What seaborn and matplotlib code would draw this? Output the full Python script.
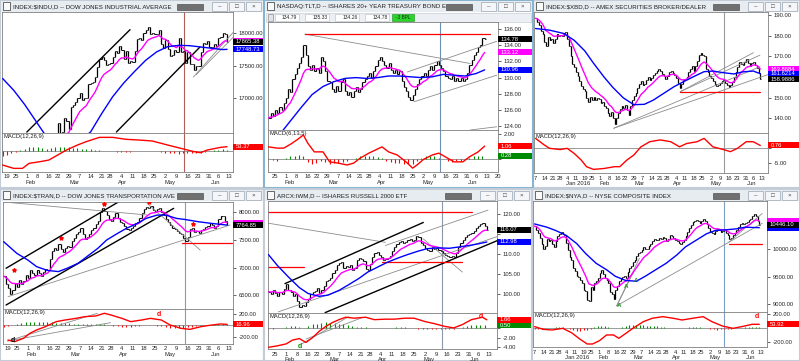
import numpy as np
import pandas as pd
import matplotlib
matplotlib.use("Agg")
import matplotlib.pyplot as plt
from matplotlib.patches import Rectangle
from matplotlib.transforms import blended_transform_factory
import seaborn as sns

# -------------------------
# Calendario de sesiones
# -------------------------
HOLIDAYS = ["2015-12-25", "2016-01-01", "2016-01-18", "2016-02-15", "2016-03-25", "2016-05-30"]
CAL = pd.bdate_range("2015-12-07", "2016-06-30", freq="C", holidays=HOLIDAYS)

# -------------------------
# Datos
# -------------------------
# $INDU, cierres diarios desde 2016-01-14
INDU_START = "2016-01-14"
INDU_CLOSE = [16379, 15988, 16016, 15766, 15882, 16093, 15885, 16167, 15944, 16069, 16466,
              16449, 16153, 16336, 16416, 16205, 16027, 16014, 15914, 15660, 15974,
              16196, 16454, 16414, 16392, 16620, 16432, 16485, 16698, 16640, 16517,
              16866, 16900, 16944, 17007, 17074, 16964, 17001, 16996, 17213, 17230, 17252,
              17326, 17481, 17602, 17624, 17583, 17503, 17516, 17536, 17634, 17717, 17685,
              17793, 17737, 17603, 17716, 17542, 17577, 17556, 17721, 17908, 17926, 17897,
              18004, 18053, 18096, 17982, 18003, 17977, 17990, 18042, 17830, 17773,
              17891, 17750, 17651, 17660, 17740, 17705, 17928, 17711, 17720, 17535, 17711,
              17530, 17526, 17435, 17500, 17492, 17706, 17851, 17828, 17873, 17787,
              17790, 17838, 17807, 17920, 17938, 18005, 17985, 17865.38]
INDU_BLUE_X = [0, 5, 10, 15, 20, 25, 30, 35, 40, 45, 50, 55, 60, 65, 70, 75, 80, 85, 90, 95, 100, 102]
INDU_BLUE = [17300, 17120, 16900, 16650, 16400, 16290, 16270, 16330, 16480, 16760, 17020,
             17230, 17410, 17580, 17710, 17790, 17810, 17805, 17785, 17765, 17745, 17748.73]
INDU_MACD_X = [0, 5, 9, 12, 17, 21, 25, 29, 34, 38, 44, 50, 56, 62, 68, 75, 81, 87, 90, 93, 99, 102]
INDU_MACD = [-174, -215, -215, -153, -132, -112, -50, 12, 74, 116, 169, 169, 145, 136, 124,
             74, 33, -8, -21, 12, 45, 53.37]
INDU_HIST = [-60, -50, -30, -10, 15, 30, 45, 50, 45, 35, 30, 35, 45, 50, 50, 45, 40, 35, 30, 25,
             20, 15, 10, 5, 2, -5, -10, -12, -15, -10, -5, -5, -5, -3, 2, -5, -10, -20, -25, -30,
             -35, -30, -30, -25, -25, -20, -10, 0, 10, 15, 20, 18]
INDU_BLACK = [(11, 16477, 57.9, 18051), (51.7, 16477, 89.7, 17785)]
INDU_GRAY = [(86.7, 17323, 104.9, 18015), (88, 17360, 104.9, 17938)]
INDU_RED = []

# TLT, cierres diarios desde 2016-01-20
TLT_START = "2016-01-20"
TLT_CLOSE = [125.0, 125.6, 125.2, 126.0, 125.6, 126.3, 126.0, 126.8, 127.5, 128.6,
             128.2, 129.8, 130.4, 131.2, 131.8, 132.6, 134.0, 132.8, 131.4, 131.0,
             131.6, 130.8, 131.2, 130.6, 132.6, 132.0, 130.8, 129.6, 129.4, 128.6,
             128.2, 129.0, 128.4, 129.4, 129.8, 128.4, 127.8, 128.2, 127.6, 128.4,
             128.8, 128.2, 128.6, 129.4, 129.8, 130.2, 130.6, 130.0, 130.8, 131.4,
             132.2, 132.6, 132.0, 131.6, 131.2, 131.8, 131.0, 130.6, 131.0, 130.4,
             130.8, 129.6, 128.8, 128.4, 127.6, 127.2, 127.8, 128.6, 129.2, 129.8,
             130.2, 130.6, 130.2, 130.9, 131.4, 131.0, 131.6, 132.0, 131.6, 131.2,
             130.8, 130.2, 130.0, 129.8, 130.2, 129.6, 130.0, 129.6, 130.0, 129.6,
             129.8, 130.6, 131.6, 132.2, 132.8, 133.2, 133.8, 134.0, 134.9, 134.78]
TLT_BLUE_X = [0, 5, 10, 15, 20, 25, 30, 35, 40, 45, 50, 55, 60, 65, 70, 75, 80, 85, 90, 95, 99]
TLT_BLUE = [121.8, 122.9, 124.6, 126.3, 127.9, 128.9, 129.5, 129.9, 130.0, 129.9, 130.0,
            130.2, 130.2, 130.1, 130.0, 130.1, 130.4, 130.3, 130.2, 130.5, 130.96]
TLT_MACD_X = [0, 4, 7, 10, 13, 16, 18, 21, 25, 28, 32, 36, 39, 42, 46, 49, 52, 55, 59, 63,
              66, 68, 71, 75, 78, 81, 85, 89, 92, 96, 99]
TLT_MACD = [1.0, 0.9, 0.9, 1.2, 1.55, 1.95, 1.3, 0.6, 0.6, -0.2, -0.3, -0.45, -0.3, 0.1, 0.5,
            0.75, 1.0, 0.6, 0.35, -0.2, -0.7, -0.45, 0.0, 0.35, 0.5, 0.2, -0.2, -0.2, 0.2, 0.6, 1.06]
TLT_HIST = [0.1, -0.05, -0.1, 0.05, 0.15, 0.25, 0.3, 0.35, 0.3, -0.2, -0.35, -0.3, -0.1, -0.2,
            -0.35, -0.3, -0.25, -0.2, -0.15, 0.0, 0.15, 0.25, 0.3, 0.3, 0.25, 0.2, 0.15, -0.1,
            -0.2, -0.25, -0.3, -0.35, -0.4, -0.35, -0.1, 0.15, 0.25, 0.3, 0.25, 0.15, 0.0,
            -0.15, -0.2, -0.15, -0.1, 0.05, 0.15, 0.25, 0.3, 0.28]
TLT_BLACK = []
TLT_GRAY = [(16.6, 135.4, 92.4, 131.75), (63.6, 130.7, 104.5, 134.5),
            (66.6, 127.0, 104.5, 130.3), (92.4, 123.5, 104.5, 123.9)]
TLT_RED = [(16.6, 135.4, 101.5, 135.4)]
TLT_FIELDS = ["134.79", "135.33", "134.26", "134.78"]

# $XBD, cierres diarios desde 2015-12-07
XBD_START = "2015-12-07"
XBD_CLOSE = [188.5, 186.5, 185.0, 182.5, 181.0, 177.0, 175.0, 179.5, 178.0, 178.5,
             176.5, 178.5, 181.0, 180.0, 180.5, 180.0, 181.5, 182.0, 178.5, 175.0,
             170.0, 166.5, 165.0, 162.5, 160.5, 158.0, 155.5, 154.0, 153.0, 150.0,
             148.0, 150.5, 149.0, 150.5, 149.0, 150.0, 149.5, 147.5, 148.0, 146.0,
             145.0, 142.5, 141.0, 143.0, 140.0, 137.5, 140.0, 142.5, 144.5, 146.0,
             145.0, 146.5, 144.0, 141.5, 146.0, 149.0, 151.0, 152.5, 154.5, 156.5,
             158.0, 156.0, 156.5, 158.5, 160.0, 158.5, 159.5, 161.0, 162.0, 163.0,
             164.0, 163.0, 161.5, 160.5, 159.0, 160.5, 162.5, 163.0, 162.0, 161.0,
             159.5, 157.0, 154.5, 156.5, 158.5, 159.0, 160.0, 162.5, 164.0, 165.5,
             163.0, 165.5, 168.0, 170.5, 171.5, 170.5, 170.0, 164.0, 162.5, 160.5,
             159.5, 158.0, 156.5, 155.5, 156.0, 157.0, 158.0, 158.5, 157.0, 156.0,
             155.0, 156.0, 157.5, 160.0, 162.5, 165.0, 167.5, 166.5, 166.0, 167.5,
             168.5, 167.0, 165.5, 167.0, 167.5, 166.0, 164.5, 162.0, 158.9886]
XBD_BLUE_X = [0, 8, 16, 22, 28, 33, 39, 44, 50, 56, 62, 67, 73, 79, 84, 90, 96, 101, 107, 113, 118, 124, 128]
XBD_BLUE = [183.5, 182.7, 181.1, 177.8, 172.7, 166.7, 160.0, 155.0, 149.9, 146.6, 146.8, 148.8,
            152.1, 155.4, 157.6, 160.2, 162.6, 162.9, 162.1, 161.5, 162.5, 162.9, 161.6214]
XBD_MACD_X = [0, 5, 8, 14, 18, 22, 26, 29, 33, 39, 45, 48, 52, 56, 60, 65, 71, 77, 82, 86,
              92, 96, 101, 107, 111, 115, 120, 124, 128]
XBD_MACD = [3.1, 0.9, -0.2, -0.6, -0.2, -1.9, -4.1, -6.3, -7.2, -6.9, -6.3, -6.3, -4.1, -2.4,
            0.3, 2.0, 2.6, 2.0, 0.3, 1.4, 2.0, 3.1, 0.3, -0.6, -1.3, -0.2, 2.0, 2.0, 0.76]
XBD_HIST = []
XBD_BLACK = []
XBD_GRAY = [(44.5, 135.2, 133.5, 161.5), (44.5, 135.2, 127.8, 165.0),
            (82.4, 152.9, 124.1, 171.8), (82.4, 152.9, 127.8, 170.6)]
XBD_RED = [(82.4, 152.6, 127.8, 152.6)]

# $TRAN, cierres diarios desde 2016-01-14
TRAN_START = "2016-01-14"
TRAN_CLOSE = [6850, 6700, 6640, 6520, 6600, 6720, 6650, 6780, 6700, 6760, 6860,
              6820, 6950, 6900, 6870, 6960, 6900, 6850, 6920, 6980, 6950,
              7150, 7300, 7350, 7320, 7420, 7330, 7280, 7350, 7400, 7380,
              7480, 7530, 7600, 7640, 7710, 7600, 7520, 7560, 7600, 7680, 7720,
              7790, 7850, 8000, 8080, 8020, 7960, 7880, 7850, 7920, 7980, 7900,
              7830, 7800, 7750, 7700, 7680, 7720, 7760, 7800, 7830, 7900, 7990,
              8060, 8100, 8080, 8110, 8040, 8000, 8060, 8080, 8000, 7950,
              7880, 7820, 7780, 7720, 7700, 7660, 7620, 7600, 7530, 7480, 7560,
              7700, 7720, 7640, 7660, 7620, 7680, 7700, 7740, 7760, 7800,
              7780, 7720, 7760, 7880, 7940, 7930, 7850, 7764.85]
TRAN_BLUE_X = [0, 6, 11, 15, 20, 25, 29, 34, 38, 43, 47, 52, 56, 61, 65, 70, 74, 79, 83, 89, 95, 102]
TRAN_BLUE = [7470, 7260, 7140, 7020, 6950, 6930, 6990, 7080, 7200, 7350, 7500, 7620, 7710,
             7800, 7890, 7950, 7950, 7890, 7870, 7830, 7800, 7770]
TRAN_MACD_X = [2, 5, 9, 12, 15, 19, 24, 28, 33, 37, 42, 46, 49, 54, 58, 63, 67, 72, 76, 81, 85, 90, 94, 99, 102]
TRAN_MACD = [-259, -288, -229, -141, -82, -24, 65, 94, 123, 153, 165, 212, 182, 123, 65, 94,
             123, 94, 6, -53, -71, -24, 0, 24, 16.96]
TRAN_HIST = [-30, -20, 10, 30, 45, 55, 60, 65, 65, 60, 55, 55, 50, 45, 40, 35, 30, 30, 28, 22,
             18, 15, 15, 15, 5, -10, -20, -30, -35, -30, -15, -5, 5, 8, 5, -5, -15, -30, -40,
             -45, -45, -40, -35, -25, -15, -5, 5, 10, 15, 18, 20, 15]
TRAN_BLACK = [(1.1, 6990, 52.6, 8193), (1.1, 6326, 77.6, 8072)]
TRAN_GRAY = [(3.5, 8175, 65.5, 7952), (2.0, 6477, 103.4, 7771), (65.5, 8163, 89.7, 7320)]
TRAN_RED = [(81.4, 7452, 104.1, 7452)]
TRAN_STARS_X = [4.6, 26.1, 45.8, 66.2, 86.4]
TRAN_STARS_Y = [6959, 7530, 8150, 8193, 7789]

# IWM, cierres diarios desde 2016-01-20
IWM_START = "2016-01-20"
IWM_CLOSE = [100.5, 99.8, 101.0, 100.2, 99.3, 100.5, 100.0, 101.2, 102.3, 100.8,
             100.4, 99.5, 99.8, 98.2, 96.6, 97.2, 96.8, 97.9, 98.6, 99.8,
             100.3, 100.6, 101.4, 100.2, 100.8, 101.8, 103.2, 103.5, 104.0, 105.2,
             106.0, 107.3, 107.6, 108.0, 106.5, 106.9, 106.6, 107.2, 106.0, 106.5,
             108.5, 109.0, 108.6, 108.2, 106.2, 105.9, 107.4, 109.2, 110.3, 110.5,
             109.8, 109.1, 108.4, 108.6, 109.0, 109.5, 110.8, 111.8, 112.4, 113.0,
             113.3, 112.7, 113.1, 113.4, 113.8, 113.2, 113.6, 114.6, 114.2, 112.8,
             112.2, 111.5, 111.0, 110.7, 111.6, 111.2, 111.4, 110.9, 110.6, 110.2,
             109.7, 109.4, 109.2, 109.5, 109.1, 110.2, 111.8, 112.7, 113.6, 114.3,
             114.7, 115.0, 115.2, 115.8, 116.4, 116.9, 117.4, 117.8, 117.0, 116.07]
IWM_BLUE_X = [0, 4, 9, 14, 18, 23, 27, 32, 36, 41, 45, 50, 54, 59, 63, 68, 72, 77, 82, 86, 91, 95, 99]
IWM_BLUE = [109.8, 107.1, 104.2, 101.5, 100.0, 99.3, 99.6, 100.8, 102.1, 103.8, 105.4, 106.8,
            107.9, 109.0, 109.8, 110.7, 111.3, 111.5, 111.4, 111.7, 112.1, 112.5, 112.98]
IWM_MACD_X = [0, 4, 8, 11, 14, 17, 20, 23, 26, 29, 32, 35, 39, 44, 48, 53, 57, 62, 66, 71,
              75, 80, 84, 88, 92, 97, 99]
IWM_MACD = [-4.0, -3.7, -3.3, -2.5, -2.2, -3.0, -2.0, -0.7, 0.3, 1.1, 1.7, 2.2, 2.0, 2.2, 1.7,
            1.8, 1.8, 2.0, 2.0, 1.3, 0.9, 0.3, 0.0, 0.7, 1.7, 2.2, 1.66]
IWM_HIST = [-0.2, -0.2, -0.1, 0.05, 0.2, 0.3, 0.3, 0.2, 0.05, 0.4, 0.7, 0.9, 1.1, 1.2, 1.1,
            1.0, 0.9, 0.7, 0.5, 0.35, 0.25, 0.15, 0.1, -0.05, -0.1, -0.1, -0.05, 0.0, 0.05,
            0.1, 0.1, 0.1, 0.05, 0.0, -0.15, -0.25, -0.3, -0.3, -0.25, -0.25, -0.3, -0.3,
            -0.25, -0.05, 0.2, 0.4, 0.5, 0.55, 0.55, 0.5]
IWM_BLACK = [(7.5, 102.5, 70.2, 117.9), (25.7, 95.2, 104.5, 113.5)]
IWM_GRAY = [(0.0, 117.7, 53.0, 112.9), (53.0, 112.1, 99.5, 121.0),
            (4.5, 95.4, 104.5, 114.5), (70.2, 113.75, 87.9, 105.4)]
IWM_RED = [(-1, 120.6, 92.4, 120.6), (-1, 106.8, 16.1, 106.8), (51.5, 107.9, 87.9, 107.9)]

# $NYA, cierres diarios desde 2015-12-07
NYA_START = "2015-12-07"
NYA_CLOSE = [10420, 10350, 10300, 10200, 10100, 10000, 10060, 10180, 10150, 10170,
             10100, 10030, 10150, 10240, 10280, 10310, 10270, 10250, 10120, 9980,
             9850, 9800, 9660, 9600, 9520, 9490, 9440, 9380, 9260, 9230,
             9070, 9050, 9310, 9260, 9390, 9420, 9470, 9560, 9620, 9550,
             9480, 9440, 9380, 9220, 9180, 9090, 9250, 9330, 9420, 9450,
             9500, 9520, 9480, 9590, 9650, 9700, 9770, 9800, 9880, 9930,
             9950, 9990, 10040, 10010, 10000, 10060, 10100, 10150, 10190, 10170,
             10160, 10200, 10190, 10220, 10200, 10140, 10180, 10250, 10230, 10210,
             10170, 10150, 10120, 10100, 10130, 10160, 10240, 10310, 10380, 10430,
             10490, 10520, 10530, 10510, 10480, 10520, 10550, 10510, 10460, 10380,
             10310, 10290, 10280, 10330, 10370, 10340, 10310, 10330, 10340, 10300,
             10260, 10190, 10210, 10250, 10290, 10340, 10410, 10450, 10470, 10460,
             10480, 10490, 10530, 10550, 10600, 10640, 10600, 10520, 10446.10]
NYA_BLUE_X = [0, 7, 12, 18, 24, 29, 35, 41, 46, 52, 58, 63, 69, 75, 81, 86, 92, 98, 103, 109, 115, 120, 128]
NYA_BLUE = [10458, 10399, 10339, 10250, 10101, 9923, 9744, 9625, 9506, 9429, 9417, 9506, 9625,
            9744, 9893, 10042, 10161, 10280, 10339, 10351, 10369, 10399, 10390]
NYA_MACD_X = [0, 5, 10, 16, 21, 26, 30, 33, 37, 41, 45, 48, 52, 56, 62, 67, 73, 79, 84, 90,
              96, 101, 107, 113, 118, 124, 128]
NYA_MACD = [20, -20, -29, -5, -68, -166, -234, -234, -185, -102, -102, -151, -78, -5, 93, 142,
            166, 142, 117, 142, 166, 93, 29, -5, 20, 54, 53.92]
NYA_HIST = [-10, -15, -10, -5, 0, 5, 10, 15, 15, 5, -15, -30, -40, -40, -35, -25, -10, 10, 25,
            30, 25, 15, 5, -5, 0, 20, 35, 45, 45, 45, 40, 40, 35, 30, 25, 25, 20, 15, 5, 0, -5,
            -5, 0, 5, 10, 15, 15, 10, 5, -5, -15, -20, -25, -20, -20, -15, -10, -5, 0, 5, 10,
            15, 15, 15, 12]
NYA_BLACK = []
NYA_GRAY = [(46.8, 8970, 129.7, 10470), (46.8, 8970, 59.7, 9833), (46.8, 8970, 56.0, 9560),
            (110.8, 10131, 129.7, 10649)]
NYA_RED = [(110.8, 10101, 129.7, 10101)]
NYA_A_X = [48.3, 52.1, 58.1]
NYA_A_Y = [8982, 9315, 9435]

# -------------------------
# Estilo
# -------------------------
sns.set_style("white")
plt.rcParams["font.family"] = ["Liberation Sans", "DejaVu Sans"]

W, H = 800, 361
MAG = "#ff00ff"
BLUE = "#0000ff"
RED = "#ff0000"
GREEN = "#008a00"
GRAY = "#8c8c8c"
FS = 4.2

fig = plt.figure(figsize=(W / 100, H / 100), dpi=100, facecolor="#d3dbe4")


def fbox(x0, y0, x1, y1):
    return [x0 / W, 1 - y1 / H, (x1 - x0) / W, (y1 - y0) / H]


def frect(x0, y0, x1, y1, **kw):
    fig.add_artist(Rectangle((x0 / W, 1 - y1 / H), (x1 - x0) / W, (y1 - y0) / H,
                             transform=fig.transFigure, **kw))


def window(x0, y0, x1, y1, title, edge="#c3ccd7"):
    frect(x0, y0, x1, y1, fc="white", ec=edge, lw=1.5, zorder=0.2)
    frect(x0 + 1, y0 + 1, x1 - 1, y0 + 12, fc="#e7ecf1", ec="none", zorder=0.3)
    frect(x0 + 3, y0 + 2.5, x0 + 10, y0 + 10, fc="#fafafa", ec="#303030", lw=0.5, zorder=0.4)
    fig.text((x0 + 13) / W, 1 - (y0 + 6.8) / H, title, fontsize=4.45, ha="left", va="center",
             color="#1e1e1e", zorder=0.5)
    frect(x1 - 87, y0 + 3.5, x1 - 61, y0 + 9.5, fc="#707070", ec="#3a3a3a", lw=0.4, zorder=0.4)
    for k, g in enumerate(["–", "□", "×"]):
        bx = x1 - 52 + k * 17
        frect(bx, y0 + 2, bx + 15, y0 + 11, fc="#f4f6f9", ec="#9aa5b1", lw=0.5, zorder=0.4)
        fig.text((bx + 7.5) / W, 1 - (y0 + 6.5) / H, g, fontsize=4.5, ha="center",
                 va="center", color="#404040", zorder=0.5)


def px_unit(ax, box):
    lo, hi = ax.get_ylim()
    return (hi - lo) / (box[3] - box[1])


def tag(ax, box, win_x1, y, text, fc, show=True):
    # caja de valor pegada al borde derecho, como en la ventana original
    per_px = px_unit(ax, box)
    h = 6.0 * per_px
    w = (win_x1 - 1.5 - box[2]) / (box[2] - box[0])
    ax.add_patch(Rectangle((1.0, y - h / 2), w, h, transform=ax.get_yaxis_transform(),
                           fc=fc, ec="none", clip_on=False, zorder=6))
    if show:
        ax.text(1.012, y, text, transform=ax.get_yaxis_transform(), ha="left", va="center",
                fontsize=FS, color="white", clip_on=False, zorder=7)


def style(ax, xlim, ylim, yt, box, tags):
    ax.set_xlim(*xlim)
    ax.set_ylim(*ylim)
    ax.set_xlabel("")
    ax.set_ylabel("")
    ax.yaxis.tick_right()
    ax.set_yticks(yt)
    # las etiquetas que quedan bajo una caja de valor no se ven en el original
    per_px = (ylim[1] - ylim[0]) / (box[3] - box[1])
    labs = []
    for v in yt:
        hidden = any(abs(v - t) < 6 * per_px for t in tags)
        labs.append("" if hidden else f"{v:.2f}")
    ax.set_yticklabels(labs)
    ax.tick_params(axis="y", labelsize=FS, length=2, width=0.5, pad=2)
    for s in ax.spines.values():
        s.set_color("#7f7f7f")
        s.set_linewidth(0.6)


def draw_lines(ax, lines, color, lw):
    for x0, y0, x1, y1 in lines:
        ax.plot([x0, x1], [y0, y1], color=color, lw=lw, zorder=2.5)


def panel(p):
    axp = fig.add_axes(fbox(*p["price_box"]), zorder=3)
    axm = fig.add_axes(fbox(*p["macd_box"]), zorder=3)

    # barras (apertura = cierre anterior)
    c = np.asarray(p["close"], float)
    x = np.arange(len(c))
    prev = np.r_[c[0], c[:-1]]
    axp.vlines(x, np.minimum(prev, c), np.maximum(prev, c), color="black", lw=0.9, zorder=2)
    axp.hlines(c, x, x + 0.55, color="black", lw=0.6, zorder=2)
    axp.hlines(prev, x - 0.55, x, color="black", lw=0.6, zorder=2)

    ema = pd.Series(c).ewm(span=10, adjust=False).mean()
    sns.lineplot(x=x, y=ema.values, color=MAG, linewidth=1.0, ax=axp, zorder=3)
    sns.lineplot(x=p["blue_x"], y=p["blue"], color=BLUE, linewidth=1.0, ax=axp, zorder=3)
    draw_lines(axp, p["gray"], GRAY, 0.6)
    draw_lines(axp, p["black"], "black", 1.0)
    draw_lines(axp, p["red"], RED, 0.9)

    mag_v, close_v, blue_v = ema.iloc[-1], c[-1], p["blue"][-1]
    style(axp, p["xlim"], p["ylim"], p["yticks"], p["price_box"], [mag_v, close_v, blue_v])
    axp.tick_params(axis="x", length=0, labelbottom=False)

    d = p["dec"]
    per_px = px_unit(axp, p["price_box"])
    bx, wx = p["price_box"], p["win_x1"]
    tag(axp, bx, wx, mag_v, f"{mag_v:.{d}f}", MAG, abs(mag_v - close_v) > 5 * per_px)
    tag(axp, bx, wx, blue_v, f"{blue_v:.{d}f}", BLUE, abs(blue_v - close_v) > 5 * per_px)
    tag(axp, bx, wx, close_v, f"{close_v:.{d}f}", "black")

    # MACD
    axm.axhline(0, color="#8a8a8a", lw=0.6, zorder=1)
    h = np.asarray(p["hist"], float)
    if len(h):
        hx = np.arange(len(h)) * 2
        axm.vlines(hx, 0, h, colors=[GREEN if v >= 0 else RED for v in h], lw=0.8, zorder=2)
    sns.lineplot(x=p["macd_x"], y=p["macd"], color=RED, linewidth=1.0, ax=axm, zorder=3)
    macd_tags = [p["macd"][-1]] + ([p["green_tag"]] if p.get("green_tag") is not None else [])
    style(axm, p["xlim"], p["mylim"], p["myticks"], p["macd_box"], macd_tags)
    axm.text(0.006, 0.97, p["macd_name"], transform=axm.transAxes, fontsize=FS,
             ha="left", va="top", color="#202020")
    if p.get("green_tag") is not None:
        tag(axm, p["macd_box"], wx, p["green_tag"], f"{p['green_tag']:.2f}", GREEN)
    tag(axm, p["macd_box"], wx, p["macd"][-1], f"{p['macd'][-1]:.2f}", RED)

    for ax in (axp, axm):
        ax.axvline(p["vline"], color=p["vcolor"], lw=0.8, zorder=1.5)

    # eje de fechas: primera sesion de cada semana, nombre del mes bajo su primera sesion
    x0, x1 = p["xlim"]
    days = CAL[CAL.get_loc(pd.Timestamp(p["start"])):]
    ticks, labels, months = [], [], []
    for i, dt in enumerate(days):
        if i > x1:
            break
        new_week = i == 0 or dt.isocalendar()[1] != days[i - 1].isocalendar()[1]
        if new_week and dt.weekday() <= 1 and i >= x0:
            ticks.append(i)
            labels.append(str(dt.day))
        if i > 0 and dt.month != days[i - 1].month:
            months.append((i, "Jan 2016" if dt.month == 1 else dt.strftime("%b")))
    axm.set_xticks(ticks)
    axm.set_xticklabels(labels)
    axm.tick_params(axis="x", labelsize=FS, length=1.5, width=0.5, pad=0.3)
    axp.set_xticks(ticks)
    axp.set_xlim(x0, x1)
    axm.set_xlim(x0, x1)
    tr = blended_transform_factory(axm.transData, fig.transFigure)
    month_top = p["macd_box"][3] + 7.6
    for i, name in months:
        axm.text(i - 0.5, 1 - month_top / H, name, transform=tr, fontsize=FS,
                 ha="left", va="top", clip_on=False)
    return axp, axm


# -------------------------
# Ventanas
# -------------------------
window(0, 0, 264, 188, "INDEX:$INDU,D -- DOW JONES INDUSTRIAL AVERAGE")
window(533, 0, 800, 188, "INDEX:$XBD,D -- AMEX SECURITIES BROKER/DEALER")
window(264, 0, 533, 188, "NASDAQ:TLT,D -- ISHARES 20+ YEAR TREASURY BOND E", edge="#86b4cf")
window(0, 189, 264, 361, "INDEX:$TRAN,D -- DOW JONES TRANSPORTATION AVE")
window(264, 189, 532, 361, "ARCX:IWM,D -- ISHARES RUSSELL 2000 ETF")
window(532, 189, 800, 361, "INDEX:$NYA,D -- NYSE COMPOSITE INDEX")

# barra de datos de TLT
frect(266, 12.5, 531, 22, fc="#eceff3", ec="#c8ced6", lw=0.5, zorder=0.4)
frect(267.5, 14, 273, 20.5, fc="#dfe3e8", ec="#7a7a7a", lw=0.4, zorder=0.45)
for k, val in enumerate(TLT_FIELDS):
    fx = 275 + k * 30
    frect(fx, 14, fx + 24, 20.5, fc="white", ec="#b7bec7", lw=0.4, zorder=0.45)
    fig.text((fx + 22.5) / W, 1 - 17.3 / H, val, fontsize=3.6, ha="right", va="center", zorder=0.5)
frect(392, 14, 414, 20.5, fc="#27d627", ec="#1a8f1a", lw=0.4, zorder=0.45)
fig.text(403 / W, 1 - 17.3 / H, "-3 BPL", fontsize=3.4, ha="center", va="center", zorder=0.5)

P1 = dict(start=INDU_START, close=INDU_CLOSE, blue_x=INDU_BLUE_X, blue=INDU_BLUE,
          macd_x=INDU_MACD_X, macd=INDU_MACD, hist=INDU_HIST, black=INDU_BLACK,
          gray=INDU_GRAY, red=INDU_RED, price_box=(2, 12, 233, 133), macd_box=(2, 133, 233, 172),
          xlim=(-0.3, 104.7), ylim=(16462, 18323), yticks=[17000, 17500, 18000],
          mylim=(-260, 223), myticks=[], macd_name="MACD(12,26,9)", dec=2,
          vline=82.6, vcolor="#b0605a", green_tag=None, win_x1=264)
P2 = dict(start=TLT_START, close=TLT_CLOSE, blue_x=TLT_BLUE_X, blue=TLT_BLUE,
          macd_x=TLT_MACD_X, macd=TLT_MACD, hist=TLT_HIST, black=TLT_BLACK,
          gray=TLT_GRAY, red=TLT_RED, price_box=(268, 22, 498, 130), macd_box=(268, 130, 498, 172),
          xlim=(-0.2, 105.1), ylim=(123.5, 136.9), yticks=[124, 126, 128, 130, 132, 134, 136],
          mylim=(-1.01, 2.35), myticks=[0, 2], macd_name="MACD(6,13,5)", dec=2,
          vline=78.5, vcolor="#6f8fb0", green_tag=0.28, win_x1=533)
P3 = dict(start=XBD_START, close=XBD_CLOSE, blue_x=XBD_BLUE_X, blue=XBD_BLUE,
          macd_x=XBD_MACD_X, macd=XBD_MACD, hist=XBD_HIST, black=XBD_BLACK,
          gray=XBD_GRAY, red=XBD_RED, price_box=(534, 12, 768, 133), macd_box=(534, 133, 768, 173),
          xlim=(-0.9, 132.4), ylim=(132.9, 191.5), yticks=[140, 150, 160, 170, 180, 190],
          mylim=(-8.4, 4.9), myticks=[-5, 0], macd_name="MACD(12,26,9)", dec=4,
          vline=107.6, vcolor="#9a9a9a", green_tag=None, win_x1=800)
P4 = dict(start=TRAN_START, close=TRAN_CLOSE, blue_x=TRAN_BLUE_X, blue=TRAN_BLUE,
          macd_x=TRAN_MACD_X, macd=TRAN_MACD, hist=TRAN_HIST, black=TRAN_BLACK,
          gray=TRAN_GRAY, red=TRAN_RED, price_box=(3, 202, 233, 309), macd_box=(3, 309, 233, 344),
          xlim=(-0.3, 104.7), ylim=(6254, 8187), yticks=[6500, 7000, 7500, 8000],
          mylim=(-329, 288), myticks=[-200, 200], macd_name="MACD(12,26,9)", dec=2,
          vline=83.0, vcolor="#7f9fc0", green_tag=None, win_x1=264)
P5 = dict(start=IWM_START, close=IWM_CLOSE, blue_x=IWM_BLUE_X, blue=IWM_BLUE,
          macd_x=IWM_MACD_X, macd=IWM_MACD, hist=IWM_HIST, black=IWM_BLACK,
          gray=IWM_GRAY, red=IWM_RED, price_box=(268, 201, 497, 313), macd_box=(268, 313, 497, 349),
          xlim=(-0.2, 103.6), ylim=(95.1, 123.3), yticks=[100, 105, 110, 115, 120],
          mylim=(-4.35, 3.07), myticks=[-4, -2, 0, 2], macd_name="MACD(12,26,9)", dec=2,
          vline=78.8, vcolor="#8a98a8", green_tag=0.50, win_x1=532)
P6 = dict(start=NYA_START, close=NYA_CLOSE, blue_x=NYA_BLUE_X, blue=NYA_BLUE,
          macd_x=NYA_MACD_X, macd=NYA_MACD, hist=NYA_HIST, black=NYA_BLACK,
          gray=NYA_GRAY, red=NYA_RED, price_box=(533, 201, 767, 312), macd_box=(533, 312, 767, 347),
          xlim=(-0.9, 132.4), ylim=(8857, 10875), yticks=[9000, 9500, 10000, 10500],
          mylim=(-278, 234), myticks=[-200, 200], macd_name="MACD(12,26,9)", dec=2,
          vline=108.0, vcolor="#7f9fc0", green_tag=None, win_x1=800)

ax1p, ax1m = panel(P1)
ax2p, ax2m = panel(P2)
ax3p, ax3m = panel(P3)
ax4p, ax4m = panel(P4)
ax5p, ax5m = panel(P5)
ax6p, ax6m = panel(P6)

# marcas sueltas
ax4p.scatter(TRAN_STARS_X, TRAN_STARS_Y, marker="*", s=7, color=RED, zorder=4)
ax4m.plot([1.8, 42.8], [-276, 212], color=GRAY, lw=0.6)
ax4m.plot([1.8, 48.8], [-276, 47], color=GRAY, lw=0.6)
ax4m.text(4, -270, "d", fontsize=5, color="black", ha="center", va="center", fontweight="bold")
ax4m.text(70.8, 194, "d", fontsize=5, color=RED, ha="center", va="center", fontweight="bold")
ax5m.plot([15.1, 36.3], [-3.3, 2.3], color=GRAY, lw=0.6)
ax5m.plot([17.0, 43.0], [-2.3, 2.2], color=GRAY, lw=0.6)
ax5m.text(14.4, -3.9, "d", fontsize=5, color=GREEN, ha="center", va="center", fontweight="bold")
ax5m.text(96.5, 2.3, "d", fontsize=5, color=RED, ha="center", va="center", fontweight="bold")
for xv, yv in zip(NYA_A_X, NYA_A_Y):
    ax6p.text(xv, yv, "A", fontsize=4.5, color="#1a8f1a", ha="center", va="center",
              fontweight="bold", zorder=4)
ax6m.text(126.9, 166, "d", fontsize=5, color=RED, ha="center", va="center", fontweight="bold")

fig.savefig("out.png", dpi=100, facecolor=fig.get_facecolor())
